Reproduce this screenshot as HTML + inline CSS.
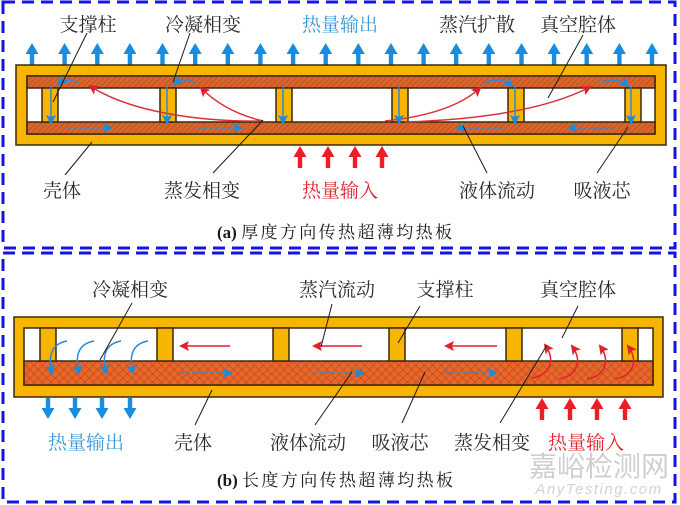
<!DOCTYPE html>
<html><head><meta charset="utf-8">
<style>
html,body{margin:0;padding:0;background:#fff;}
svg{display:block;}
.t{font-family:"Liberation Serif","Noto Serif CJK SC",serif;font-size:19px;fill:#2a2a2a;text-anchor:middle;}
.cap{font-family:"Liberation Serif","Noto Serif CJK SC",serif;font-size:17px;fill:#1a1a1a;letter-spacing:2.4px;}
</style></head>
<body>
<svg width="680" height="505" viewBox="0 0 680 505" xmlns="http://www.w3.org/2000/svg">
<defs>
  <pattern id="hA" width="4" height="4" patternUnits="userSpaceOnUse" patternTransform="rotate(45)">
    <rect width="4" height="4" fill="#d9652c"/>
    <line x1="0" y1="0" x2="0" y2="4" stroke="#b8461c" stroke-width="1.2"/>
  </pattern>
  <pattern id="hB" width="6" height="6" patternUnits="userSpaceOnUse" patternTransform="rotate(45)">
    <rect width="6" height="6" fill="#e8672a"/>
    <line x1="0" y1="0" x2="0" y2="6" stroke="#c0481c" stroke-width="1.3"/>
    <line x1="0" y1="0" x2="6" y2="0" stroke="#c0481c" stroke-width="1.3"/>
  </pattern>
  <path id="up" d="M0,0 L6.5,11 L2.2,11 L2.2,22 L-2.2,22 L-2.2,11 L-6.5,11 Z"/>
  <path id="dn" d="M0,0 L6.5,-11 L2.2,-11 L2.2,-21 L-2.2,-21 L-2.2,-11 L-6.5,-11 Z"/>
  <marker id="ar" viewBox="0 0 10 10" refX="8" refY="5" markerWidth="10" markerHeight="10" markerUnits="userSpaceOnUse" orient="auto"><path d="M0,0 L10,5 L0,10 L2,5 z" fill="#e2202c"/></marker>
  <marker id="ab" viewBox="0 0 10 10" refX="8" refY="5" markerWidth="10" markerHeight="10" markerUnits="userSpaceOnUse" orient="auto"><path d="M0,0 L10,5 L0,10 L2,5 z" fill="#1a8ce0"/></marker>
</defs>

<!-- dashed panel borders -->
<rect x="3" y="2" width="672" height="246" fill="none" stroke="#1414e6" stroke-width="3" stroke-dasharray="12 7"/>
<rect x="3" y="253" width="672" height="249" fill="none" stroke="#1414e6" stroke-width="3" stroke-dasharray="12 7"/>

<!-- ============ PANEL A ============ -->
<g fill="#1a8ce0">
  <use href="#up" x="32" y="43"/><use href="#up" x="64.6" y="43"/><use href="#up" x="97.3" y="43"/><use href="#up" x="129.9" y="43"/><use href="#up" x="162.5" y="43"/>
  <use href="#up" x="195.2" y="43"/><use href="#up" x="227.8" y="43"/><use href="#up" x="260.4" y="43"/><use href="#up" x="293.1" y="43"/><use href="#up" x="325.7" y="43"/>
  <use href="#up" x="358.3" y="43"/><use href="#up" x="391" y="43"/><use href="#up" x="423.6" y="43"/><use href="#up" x="456.2" y="43"/><use href="#up" x="488.8" y="43"/>
  <use href="#up" x="521.5" y="43"/><use href="#up" x="554.1" y="43"/><use href="#up" x="586.7" y="43"/><use href="#up" x="619.4" y="43"/><use href="#up" x="652" y="43"/>
</g>
<g fill="#ee1c24">
  <use href="#up" x="300" y="146"/><use href="#up" x="328" y="146"/><use href="#up" x="355" y="146"/><use href="#up" x="382" y="146"/>
</g>

<rect x="16" y="65" width="650" height="80" fill="#f7b400" stroke="#3a2810" stroke-width="1.5"/>
<rect x="27" y="76" width="628" height="58" fill="#fff" stroke="#3a2810" stroke-width="1.5"/>
<rect x="27" y="76" width="628" height="12" fill="url(#hA)" stroke="#3a2810" stroke-width="1.5"/>
<rect x="27" y="122" width="628" height="12" fill="url(#hA)" stroke="#3a2810" stroke-width="1.5"/>
<g fill="#f7b400" stroke="#3a2810" stroke-width="1.5">
  <rect x="42" y="88" width="16" height="34"/><rect x="160" y="88" width="16" height="34"/><rect x="276" y="88" width="16" height="34"/>
  <rect x="392" y="88" width="16" height="34"/><rect x="508" y="88" width="16" height="34"/><rect x="625" y="88" width="16" height="34"/>
</g>

<!-- red vapor curves a -->
<g fill="none" stroke="#d9303a" stroke-width="1.5">
  <path d="M263,121 C200,122 130,112 90,86" marker-end="url(#ar)"/>
  <path d="M263,121 Q225,112 201,88" marker-end="url(#ar)"/>
  <path d="M385,121 Q452,114 480,88" marker-end="url(#ar)"/>
  <path d="M405,122 Q530,118 590,87" marker-end="url(#ar)"/>
</g>
<!-- blue liquid arrows a -->
<g fill="none" stroke="#2a8ad8" stroke-width="1.5">
  <path d="M79,84 Q68,76 58,84" marker-end="url(#ab)"/>
  <path d="M195,83 Q185,76 174,84" marker-end="url(#ab)"/>
  <path d="M484,84 Q498,75 512,86" marker-end="url(#ab)"/>
  <path d="M600,84 Q615,75 628,86" marker-end="url(#ab)"/>
  <path d="M51,86 L51,123" marker-end="url(#ab)"/>
  <path d="M167,86 L167,123" marker-end="url(#ab)"/>
  <path d="M283,86 L283,123" marker-end="url(#ab)"/>
  <path d="M399,86 L399,123" marker-end="url(#ab)"/>
  <path d="M515,86 L515,123" marker-end="url(#ab)"/>
  <path d="M631,86 L631,123" marker-end="url(#ab)"/>
  <g stroke-dasharray="4 2">
    <path d="M67,128 L111,128" marker-end="url(#ab)"/>
    <path d="M197,128 L241,128" marker-end="url(#ab)"/>
    <path d="M503,128 L457,128" marker-end="url(#ab)"/>
    <path d="M613,128 L569,128" marker-end="url(#ab)"/>
  </g>
</g>

<!-- leader lines a -->
<g stroke="#1a1a1a" stroke-width="1">
  <line x1="87" y1="33" x2="53" y2="102"/>
  <line x1="190" y1="33" x2="173" y2="82"/>
  <line x1="583" y1="35" x2="548" y2="98"/>
  <line x1="65" y1="175" x2="92" y2="142"/>
  <line x1="213" y1="173" x2="263" y2="120"/>
  <line x1="487" y1="173" x2="463" y2="126"/>
  <line x1="597" y1="173" x2="628" y2="127"/>
</g>

<!-- labels a -->
<text class="t" x="88" y="31">支撑柱</text>
<text class="t" x="203" y="31">冷凝相变</text>
<text class="t" x="340" y="31" style="fill:#3a9ad8">热量输出</text>
<text class="t" x="477" y="31">蒸汽扩散</text>
<text class="t" x="578" y="31">真空腔体</text>
<text class="t" x="62" y="197">壳体</text>
<text class="t" x="202" y="197">蒸发相变</text>
<text class="t" x="340" y="197" style="fill:#e0262e">热量输入</text>
<text class="t" x="497" y="197">液体流动</text>
<text class="t" x="602" y="197">吸液芯</text>
<text class="cap" x="217" y="238"><tspan style="font-weight:bold;letter-spacing:0">(a) </tspan>厚度方向传热超薄均热板</text>

<!-- ============ PANEL B ============ -->
<rect x="14" y="317" width="649" height="80" fill="#f7b400" stroke="#3a2810" stroke-width="1.5"/>
<rect x="24" y="328" width="629" height="57" fill="#fff" stroke="#3a2810" stroke-width="1.5"/>
<rect x="24" y="361" width="629" height="24" fill="url(#hB)" stroke="#3a2810" stroke-width="1.5"/>
<g fill="#f7b400" stroke="#3a2810" stroke-width="1.5">
  <rect x="40" y="328" width="16" height="33"/><rect x="157" y="328" width="16" height="33"/><rect x="273" y="328" width="16" height="33"/>
  <rect x="389" y="328" width="16" height="33"/><rect x="506" y="328" width="16" height="33"/><rect x="622" y="328" width="16" height="33"/>
</g>

<g fill="#1a8ce0">
  <use href="#dn" x="48" y="419"/><use href="#dn" x="75" y="419"/><use href="#dn" x="102" y="419"/><use href="#dn" x="130" y="419"/>
</g>
<g fill="#ee1c24">
  <use href="#up" x="542" y="398"/><use href="#up" x="570" y="398"/><use href="#up" x="597" y="398"/><use href="#up" x="625" y="398"/>
</g>

<!-- red vapor b -->
<g fill="none" stroke="#e2202c" stroke-width="1.5">
  <path d="M230,346 L181,346" marker-end="url(#ar)"/>
  <path d="M362,346 L314,346" marker-end="url(#ar)"/>
  <path d="M497,346 L446,346" marker-end="url(#ar)"/>
  <path d="M532,378 C550,375 556,360 545,345" marker-end="url(#ar)"/>
  <path d="M559,379 C577,376 583,361 572,346" marker-end="url(#ar)"/>
  <path d="M587,379 C605,376 611,361 600,346" marker-end="url(#ar)"/>
  <path d="M615,379 C633,376 639,361 628,346" marker-end="url(#ar)"/>
</g>
<!-- blue b -->
<g fill="none" stroke="#2a8ad8" stroke-width="1.5">
  <path d="M67,341 Q45,345 52,373" marker-end="url(#ab)"/>
  <path d="M94,341 Q72,345 79,373" marker-end="url(#ab)"/>
  <path d="M121,341 Q99,345 106,373" marker-end="url(#ab)"/>
  <path d="M148,341 Q126,345 133,373" marker-end="url(#ab)"/>
  <g stroke-dasharray="4 2">
    <path d="M180,373 L231,373" marker-end="url(#ab)"/>
    <path d="M313,373 L363,373" marker-end="url(#ab)"/>
    <path d="M445,373 L496,373" marker-end="url(#ab)"/>
  </g>
</g>

<!-- leader lines b -->
<g stroke="#1a1a1a" stroke-width="1">
  <line x1="132" y1="303" x2="100" y2="360"/>
  <line x1="332" y1="304" x2="321" y2="347"/>
  <line x1="420" y1="306" x2="398" y2="343"/>
  <line x1="578" y1="306" x2="562" y2="338"/>
  <line x1="195" y1="425" x2="212" y2="390"/>
  <line x1="315" y1="425" x2="352" y2="372"/>
  <line x1="402" y1="423" x2="425" y2="372"/>
  <line x1="500" y1="423" x2="547" y2="345"/>
</g>

<!-- labels b -->
<text class="t" x="130" y="296">冷凝相变</text>
<text class="t" x="337" y="296">蒸汽流动</text>
<text class="t" x="445" y="296">支撑柱</text>
<text class="t" x="578" y="296">真空腔体</text>
<text class="t" x="86" y="449" style="fill:#3a9ad8">热量输出</text>
<text class="t" x="193" y="449">壳体</text>
<text class="t" x="308" y="449">液体流动</text>
<text class="t" x="400" y="449">吸液芯</text>
<text class="t" x="492" y="449">蒸发相变</text>
<text class="t" x="586" y="449" style="fill:#e0262e">热量输入</text>
<text class="cap" x="217" y="486"><tspan style="font-weight:bold;letter-spacing:0">(b) </tspan>长度方向传热超薄均热板</text>

<!-- watermark -->
<text x="599" y="476" style="font-family:'Noto Sans CJK SC',sans-serif;font-size:28px;fill:#cfcfcf;text-anchor:middle;">嘉峪检测网</text>
<text x="599" y="494" style="font-family:'Liberation Sans',sans-serif;font-style:italic;font-size:15px;letter-spacing:1.5px;fill:#d2d2d2;text-anchor:middle;">AnyTesting.com</text>
</svg>
</body></html>
